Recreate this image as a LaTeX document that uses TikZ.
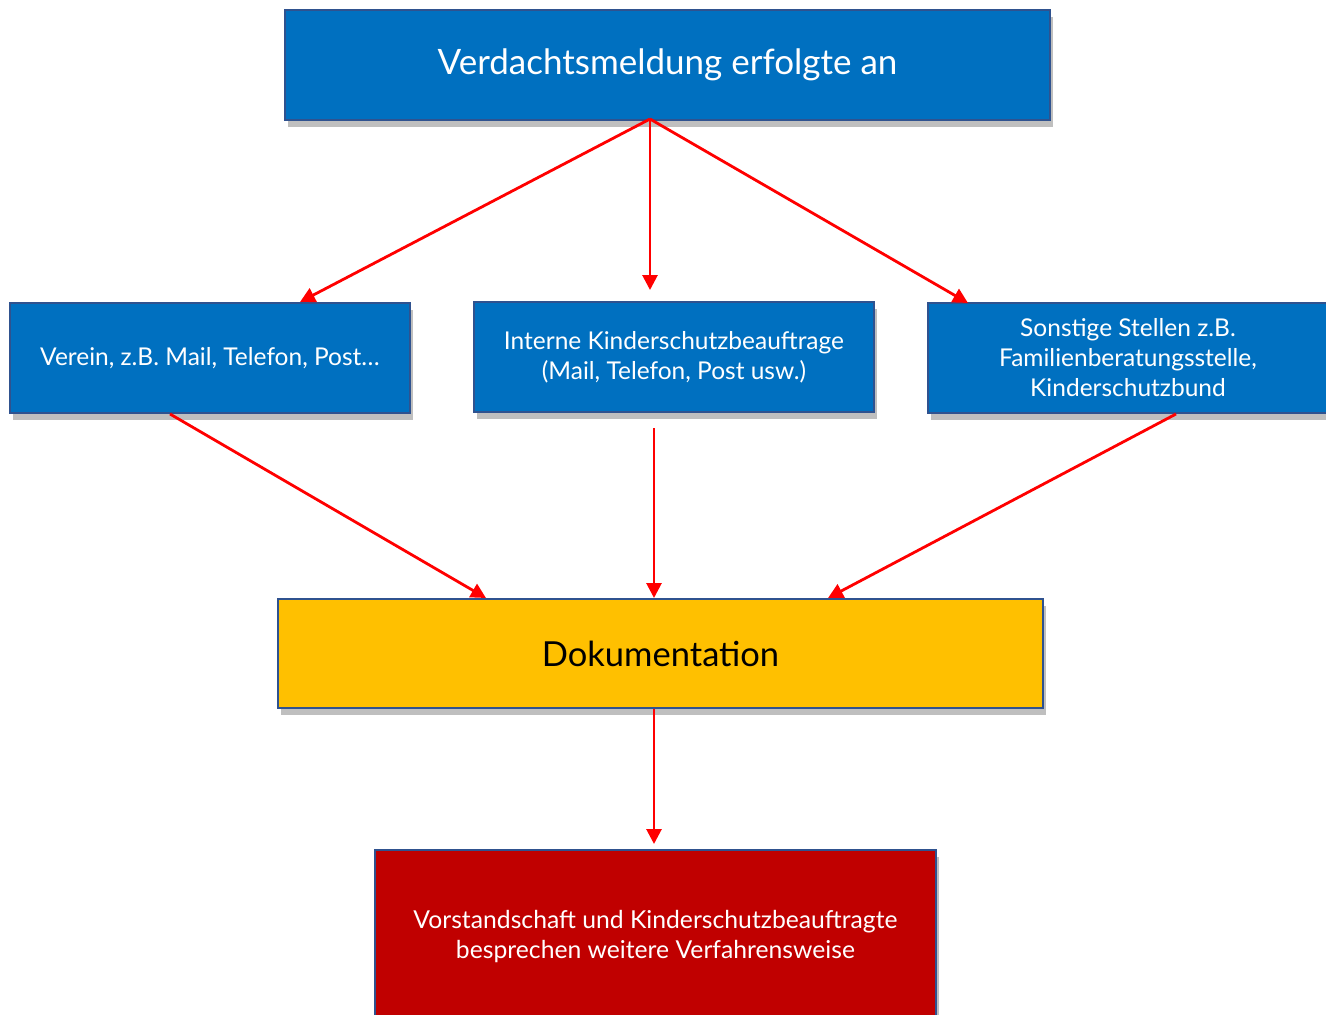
\documentclass[tikz,border=0pt]{standalone}
\usepackage{fontspec}
\setmainfont{Lato}
\usetikzlibrary{arrows.meta,shadows,calc}
\definecolor{boxblue}{HTML}{0070C0}
\definecolor{boxgold}{HTML}{FFC000}
\definecolor{boxred}{HTML}{C00000}
\definecolor{edgeblue}{HTML}{2F528F}
\tikzset{
  box/.style={draw=edgeblue, line width=2pt, align=center, inner sep=0pt,
    drop shadow={shadow xshift=3pt, shadow yshift=-7pt, fill=black, opacity=0.25}},
  bluebox/.style={box, fill=boxblue, text=white},
  arr/.style={draw=red, line width=2.8pt, -{Triangle[length=15pt,width=15pt]}}
}
\begin{document}
\begin{tikzpicture}[x=1pt,y=-1pt]
\useasboundingbox (0,0) rectangle (1326,1015);
\clip (0,0) rectangle (1326,1015);
\node[bluebox, minimum width=765pt, minimum height=110pt, font=\fontsize{35}{42}\selectfont] (top) at (667.5,65) {\raisebox{-4pt}{Verdachtsmeldung erfolgte an}};
\node[bluebox, minimum width=400pt, minimum height=110pt, font=\fontsize{24.5}{30}\selectfont] (left) at (210,358) {\raisebox{-3pt}{Verein, z.B. Mail, Telefon, Post\dots}};
\node[bluebox, minimum width=400pt, minimum height=110pt, font=\fontsize{24.5}{30}\selectfont] (mid) at (674,357) {Interne Kinderschutzbeauftrage\\(Mail, Telefon, Post usw.)};
\node[bluebox, minimum width=400pt, minimum height=110pt, font=\fontsize{24.5}{30}\selectfont] (right) at (1128,358) {Sonstige Stellen z.B.\\Familienberatungsstelle,\\Kinderschutzbund};
\node[box, fill=boxgold, text=black, minimum width=765pt, minimum height=109pt, font=\fontsize{34.5}{40}\selectfont] (doku) at (660.5,653.5) {\raisebox{-2pt}{Dokumentation}};
\node[box, fill=boxred, text=white, minimum width=561pt, minimum height=174pt, font=\fontsize{24.7}{30}\selectfont] (bot) at (655.5,937) {Vorstandschaft und Kinderschutzbeauftragte\\besprechen weitere Verfahrensweise};
\coordinate (src) at ($(top.south)+(-17.5,-2)$);
\draw[arr] (src) -- ($(left.north)+(90,0)$);
\draw[arr] (src) -- ($(mid.north)+(-24,-11)$);
\draw[arr] (src) -- ($(right.north)+(-160,1)$);
\draw[arr] ($(left.south)+(-40,0)$) -- ($(doku.north)+(-174.5,0)$);
\draw[arr] ($(mid.south)+(-20,15)$) -- ($(doku.north)+(-6.5,0)$);
\draw[arr] ($(right.south)+(48,0)$) -- ($(doku.north)+(167.5,0)$);
\draw[arr] ($(doku.south)+(-6.5,0)$) -- ($(bot.north)+(-1.5,-5)$);
\end{tikzpicture}
\end{document}
